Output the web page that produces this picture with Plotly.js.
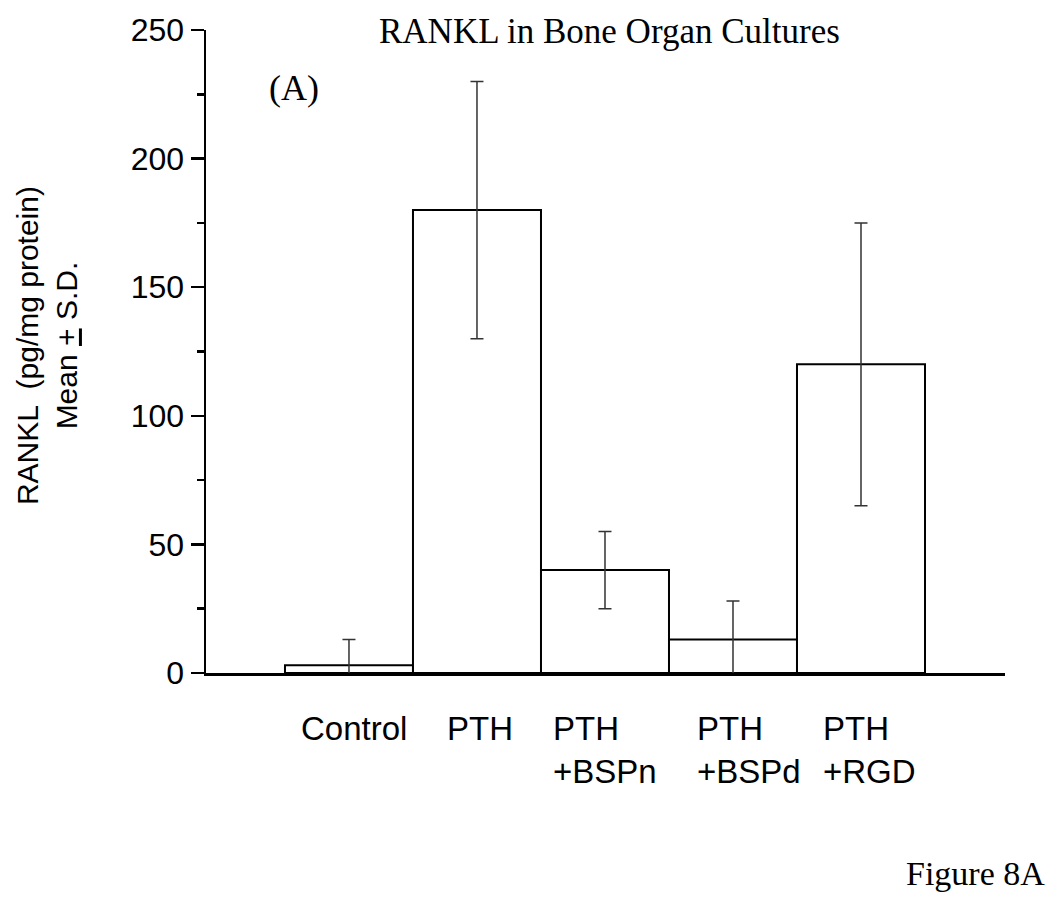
<!DOCTYPE html>
<html>
<head>
<meta charset="utf-8">
<script src="https://cdn.plot.ly/plotly-3.0.1.min.js"></script>
<style>html,body{margin:0;padding:0;background:#fff;}#chart{width:1050px;height:897px;}</style>
</head>
<body>
<div id="chart"></div>
<script>
// Data
const categories = ["Control", "PTH", "PTH<br>+BSPn", "PTH<br>+BSPd", "PTH<br>+RGD"];
const meanValues = [3, 180, 40, 13, 120];
const sdValues = [10, 50, 15, 15, 55];
const yTickVals = [0, 50, 100, 150, 200, 250];

// layout-only label nudges (pixels)
const labelShift = [5, 3, 0, 16, 8];

const xIdx = categories.map((c, i) => i);

const trace = {
  type: 'bar',
  x: xIdx,
  y: meanValues,
  marker: {color: '#ffffff', line: {color: '#000000', width: 2}},
  error_y: {type: 'data', array: sdValues, symmetric: true, visible: true,
            color: '#333333', thickness: 1.5, width: 6.5},
  hoverinfo: 'skip'
};

const sans = 'Liberation Sans, Arial, sans-serif';
const serif = 'Liberation Serif, Times New Roman, serif';

const annotations = categories.map((c, i) => ({
  x: i, xref: 'x', y: -0.054, yref: 'paper',
  text: c, showarrow: false, xanchor: 'center', yanchor: 'top', align: 'left',
  xshift: labelShift[i],
  font: {family: sans, size: 33, color: '#000'}
}));

annotations.push({
  x: 0.5, xref: 'paper', y: 0.9981, yref: 'paper',
  text: 'RANKL in Bone Organ Cultures', showarrow: false,
  xanchor: 'center', yanchor: 'middle', xshift: 4,
  font: {family: serif, size: 35, color: '#000'}
});
annotations.push({
  x: 0.0763, xref: 'paper', y: 0.9098, yref: 'paper',
  text: '(A)', showarrow: false, xanchor: 'left', yanchor: 'middle',
  font: {family: serif, size: 36, color: '#000'}
});
annotations.push({
  x: 1.0526, xref: 'paper', y: -0.3118, yref: 'paper',
  text: 'Figure 8A', showarrow: false, xanchor: 'right', yanchor: 'middle',
  font: {family: serif, size: 34, color: '#000'}
});
annotations.push({
  x: -0.199, xref: 'paper', y: 0.51, yref: 'paper',
  text: 'RANKL  (pg/mg protein)<br>Mean <u>+</u> S.D.', showarrow: false,
  textangle: -90, xanchor: 'center', yanchor: 'middle', align: 'center',
  font: {family: sans, size: 30, color: '#000'}
});

const layout = {
  width: 1050, height: 897,
  margin: {l: 206, r: 45, t: 30, b: 224, pad: 0},
  paper_bgcolor: '#ffffff', plot_bgcolor: '#ffffff',
  showlegend: false,
  bargap: 0,
  xaxis: {
    range: [-1.117, 5.125], showgrid: false, zeroline: false,
    showline: true, linecolor: '#000', linewidth: 3,
    showticklabels: false, ticks: '', fixedrange: true
  },
  yaxis: {
    range: [0, 250], showgrid: false, zeroline: false,
    showline: true, linecolor: '#000', linewidth: 2.5,
    tickmode: 'array', tickvals: yTickVals,
    ticks: 'outside', ticklen: 13, tickwidth: 2.5, tickcolor: '#000',
    minor: {dtick: 25, ticks: 'outside', ticklen: 7, tickwidth: 2.5, tickcolor: '#000', showgrid: false},
    tickfont: {family: sans, size: 32, color: '#000'},
    fixedrange: true
  },
  annotations: annotations
};

Plotly.newPlot('chart', [trace], layout, {staticPlot: true, displayModeBar: false});
</script>
</body>
</html>
